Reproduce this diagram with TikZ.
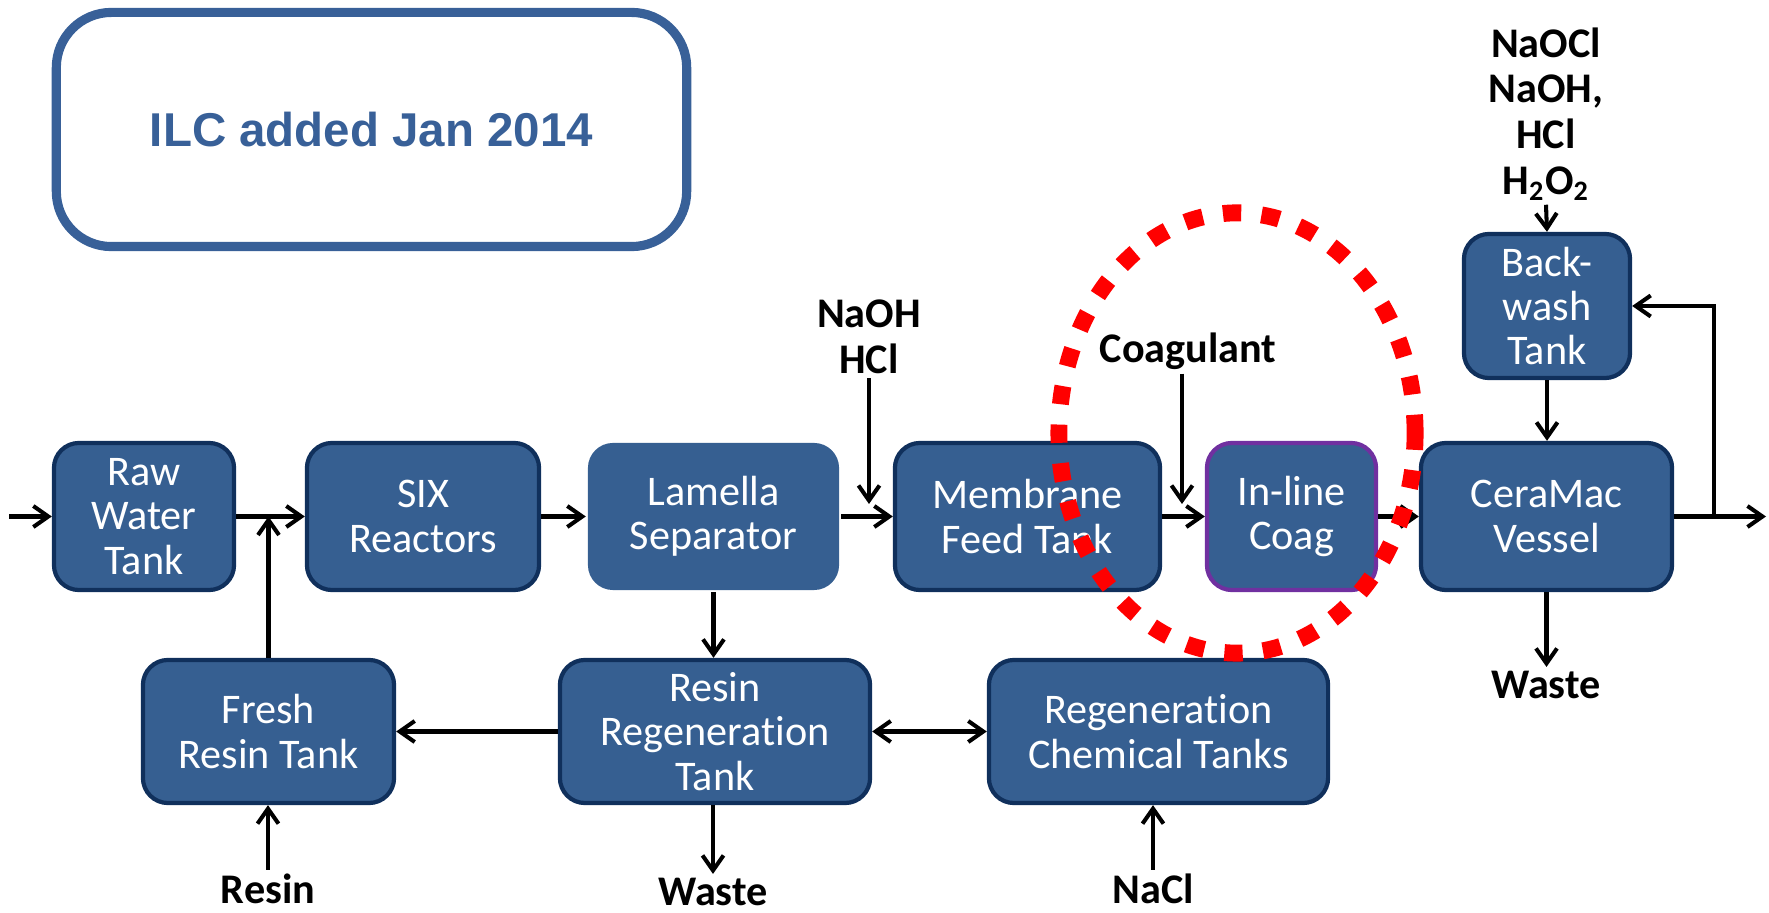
\documentclass[tikz,border=0pt]{standalone}
\usepackage{fontspec}
\setmainfont{Carlito}[Ligatures=NoCommon]
\newfontfamily\arialfont{Liberation Sans}
\usetikzlibrary{arrows.meta}
\definecolor{boxfill}{RGB}{54,95,145}
\definecolor{boxline}{RGB}{16,48,92}
\definecolor{ilcblue}{RGB}{56,96,152}
\definecolor{coagline}{RGB}{112,48,160}
\begin{document}
\begin{tikzpicture}[x=0.01cm,y=-0.01cm,
  proc/.style={draw=boxline, line width=1.2pt, fill=boxfill, rounded corners=0.25cm,
    text=white, align=center, font=\fontsize{12}{12.6}\selectfont, inner sep=0pt},
  lbl/.style={font=\bfseries\fontsize{12}{13}\selectfont, align=center, inner sep=1pt},
  arr/.style={line width=1.15pt, -{Straight Barb[length=1.5mm,width=2.1mm]}},
  dbl/.style={line width=1.15pt, {Straight Barb[length=1.5mm,width=2.1mm]}-{Straight Barb[length=1.5mm,width=2.1mm]}}
]
\useasboundingbox (0,0) rectangle (1769,913);

% title box
\node[draw=ilcblue, line width=2.6pt, rounded corners=0.55cm, minimum width=6.30cm, minimum height=2.34cm,
  text=ilcblue, font=\arialfont\bfseries\fontsize{13.5}{15}\selectfont] (ilc) at (371.5,129.5) {ILC added Jan 2014};

% process boxes
\node[proc, minimum width=1.80cm, minimum height=1.47cm] (raw) at (144,516.5) {Raw\\Water\\Tank};
\node[proc, minimum width=2.32cm, minimum height=1.47cm] (six) at (423,516.5) {SIX\\Reactors};
\node[proc, draw=none, minimum width=2.51cm, minimum height=1.47cm] (lam) at (713.5,516.5) {Lamella\\Separator};
\node[proc, minimum width=2.65cm, minimum height=1.47cm] (mem) at (1027.5,516.5) {Membrane\\Feed Tank};
\node[proc, draw=coagline, minimum width=1.69cm, minimum height=1.47cm] (coag) at (1291.5,516.5) {In-line\\Coag};
\node[proc, minimum width=2.51cm, minimum height=1.47cm] (cera) at (1546.5,516.5) {CeraMac\\Vessel};
\node[proc, minimum width=1.66cm, minimum height=1.44cm] (back) at (1547,306) {Back-\\wash\\Tank};
\node[proc, minimum width=2.51cm, minimum height=1.43cm] (fresh) at (268.5,731.5) {Fresh\\Resin Tank};
\node[proc, minimum width=3.10cm, minimum height=1.43cm] (rreg) at (715,731.5) {Resin\\Regeneration\\Tank};
\node[proc, minimum width=3.39cm, minimum height=1.43cm] (rchem) at (1158.5,731.5) {Regeneration\\Chemical Tanks};

% labels
\node[lbl] (naoh) at (869,337) {NaOH\\HCl};
\node[lbl] (coagulant) at (1188,351) {Coagulant};
\node[lbl] (chem) at (1546,114) {NaOCl\\NaOH,\\HCl\\H\textsubscript{2}O\textsubscript{2}};
\node[lbl] (waste1) at (1546,685) {Waste};
\node[lbl] (resin) at (268,889) {Resin};
\node[lbl] (waste2) at (713,892) {Waste};
\node[lbl] (nacl) at (1153,889) {NaCl};

% coordinates
\coordinate (in) at (9,516.5);
\coordinate (out) at (1766,516.5);
\coordinate (j2) at (1714,516.5);
\coordinate (naohE) at (869,504);
\coordinate (coagE) at (1182,504);

% connectors
\draw[arr] (in) -- (raw.west);
\draw[arr] (raw.east) -- (six.west);
\draw[arr] (fresh.north) -- (fresh.north |- raw.east);
\draw[arr] (six.east) -- (lam.west);
\draw[arr] (lam.east) -- (mem.west);
\draw[arr] (naoh.south -| naohE) -- (naohE);
\draw[arr] (mem.east) -- (coag.west);
\draw[arr] (coagulant.south -| coagE) -- (coagE);
\draw[arr] (coag.east) -- (cera.west);
\draw[arr] (cera.east) -- (out);
\draw[arr] (j2) |- (back.east);
\draw[arr] (chem.south) -- (back.north);
\draw[arr] (back.south) -- (back.south |- cera.north);
\draw[arr] (cera.south) -- (cera.south |- waste1.north);
\draw[arr] (lam.south) -- (lam.south |- rreg.north);
\draw[arr] (rreg.west) -- (fresh.east);
\draw[dbl] (rreg.east) -- (rchem.west);
\draw[arr] (resin.north) -- (resin.north |- fresh.south);
\draw[arr] (rreg.south -| waste2.north) -- (waste2.north);
\draw[arr] (nacl.north) -- (nacl.north |- rchem.south);

% highlight ellipse
\draw[red, line width=4.8pt, dash pattern=on 5.2pt off 5.8pt] (1237,433) ellipse [x radius=1.78cm, y radius=2.20cm];
\end{tikzpicture}
\end{document}
